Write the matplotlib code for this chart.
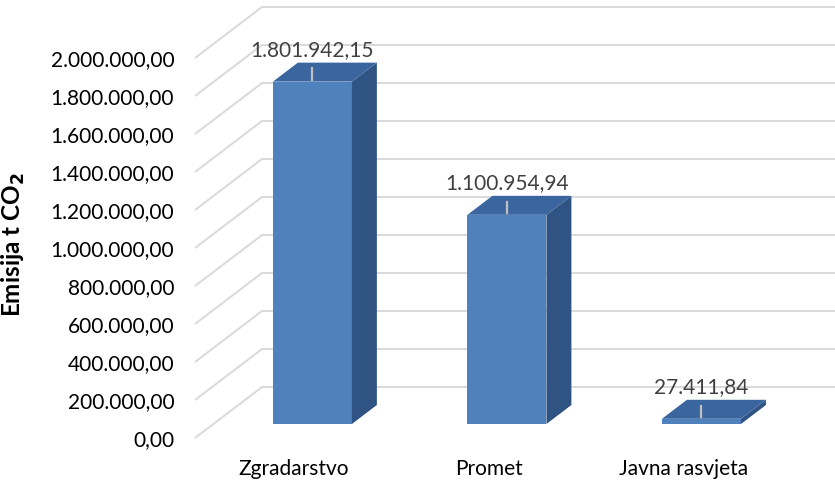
import numpy as np
import matplotlib
matplotlib.use("Agg")
import matplotlib.pyplot as plt
from matplotlib.patches import Polygon

# podaci ======================================================================
kategorije = ["Zgradarstvo", "Promet", "Javna rasvjeta"]
emisije = [1801942.15, 1100954.94, 27411.84]
yticks = np.arange(0, 2000001, 200000)

def hr_format(v):
    # 1.801.942,15 (hrvatski zapis)
    s = "{:,.2f}".format(v)
    return s.replace(",", "X").replace(".", ",").replace("X", ".")

plt.rcParams['font.family'] = ['Lato', 'DejaVu Sans']

fig = plt.figure(figsize=(8.35, 4.86), dpi=100)
ax = fig.add_axes([195/835, 48/486, 640/835, 380/486])
ax.set_xlim(-0.509, 2.781)
ax.set_ylim(0, 2000000)
for s in ax.spines.values():
    s.set_visible(False)

# dubina (kosa projekcija)
dx = 67/194.5
dy = 51/380*2000000
f0, f1 = 0.2745, 0.647
w = 79/194.5
x0, x1 = ax.get_xlim()

# mreza
for v in yticks:
    ax.plot([x0, x0+dx, x1], [v, v+dy, v+dy], color="#d9d9d9", lw=1.4,
            zorder=1, clip_on=False, solid_capstyle="butt")

c_front = "#4f81bd"
c_side = "#2f5484"
c_top = "#3b659e"
for i, v in enumerate(emisije):
    l = i - w/2 + f0*dx
    r = l + w
    b = f0*dy
    t = v + f0*dy
    ddx = (f1-f0)*dx
    ddy = (f1-f0)*dy
    ax.add_patch(Polygon([(l, b), (r, b), (r, t), (l, t)], closed=True,
                         fc=c_front, ec="none", zorder=3, clip_on=False))
    ax.add_patch(Polygon([(r, b), (r+ddx, b+ddy), (r+ddx, t+ddy), (r, t)], closed=True,
                         fc=c_side, ec="none", zorder=3, clip_on=False))
    ax.add_patch(Polygon([(l, t), (r, t), (r+ddx, t+ddy), (l+ddx, t+ddy)], closed=True,
                         fc=c_top, ec="none", zorder=3, clip_on=False))
    cx = (l+r)/2
    ax.plot([cx, cx], [t + 0.03*dy, t + 0.26*dy], color="#bfbfbf", lw=1.6,
            zorder=4, clip_on=False)
    ax.annotate(hr_format(v), (cx, t+ddy), xytext=(0, 2), textcoords="offset points",
                ha="center", va="bottom", fontsize=15, color="#404040", zorder=5)

ax.set_yticks(yticks)
ax.set_yticklabels([hr_format(v) for v in yticks])
ax.set_xticks(range(len(kategorije)))
ax.set_xticklabels(kategorije)
ax.tick_params(axis="y", length=0, pad=15, labelsize=15, colors="black")
ax.tick_params(axis="x", length=0, pad=15, labelsize=15, colors="black")
ax.set_ylabel(r"Emisija t CO$_\mathbf{2}$", fontsize=17.5, fontweight="bold")
ax.yaxis.set_label_coords(-0.262, 0.51)

fig.savefig("out.png", dpi=100)
